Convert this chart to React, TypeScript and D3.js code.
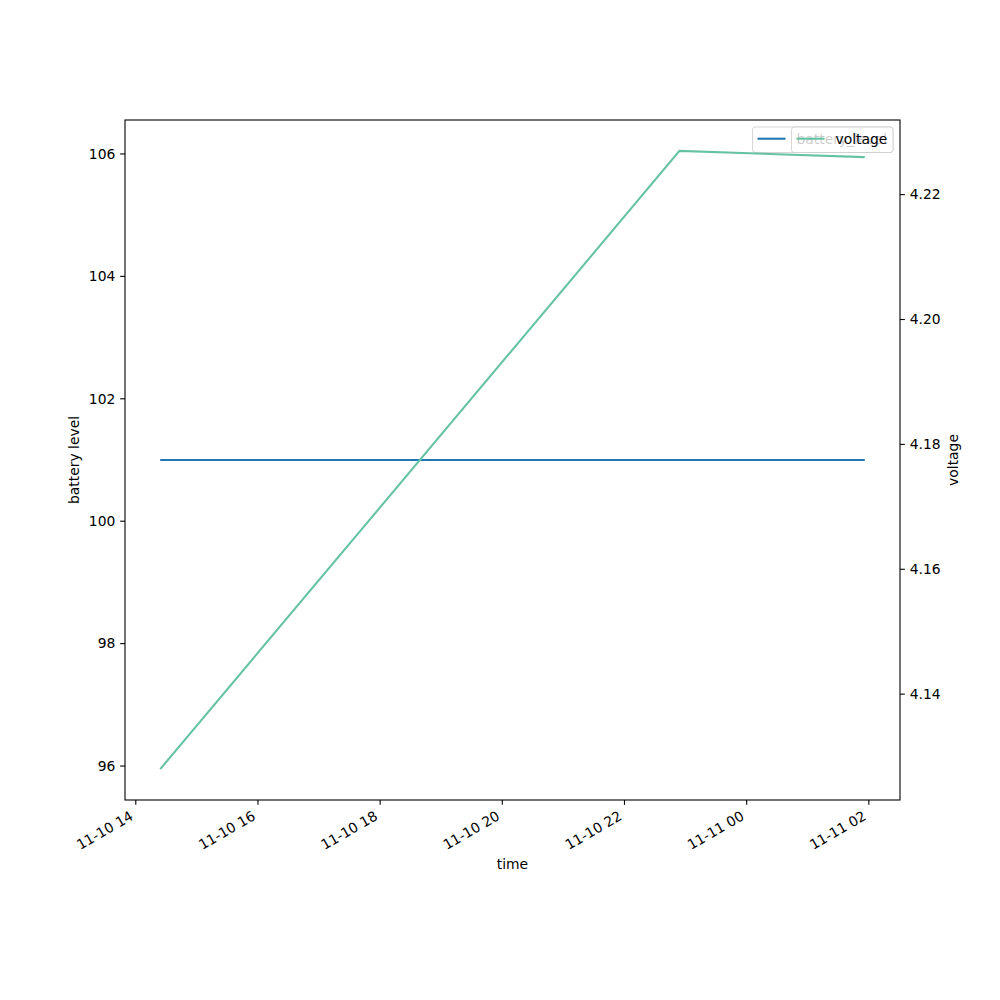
import React from "react";
import * as d3 from "d3";

const times = ["2023-11-10T14:24:00", "2023-11-10T22:54:00", "2023-11-11T01:56:00"];
const batteryLevel = [101, 101, 101];
const voltage = [4.128, 4.227, 4.226];
const batteryTicks = [96, 98, 100, 102, 104, 106];
const voltageTicks = [4.14, 4.16, 4.18, 4.2, 4.22];
const seriesNames = ["battery_level", "voltage"];

const W = 1000, H = 1000;
const L = 125, R = 900, T = 120, B = 800;
const FONT = "DejaVu Sans";
const FS = 13.89;
const BLUE = "#1f77b4";
const GREEN = "#66c2a5";

function withMargin(lo: number, hi: number) {
  if (hi - lo === 0) {
    const e = Math.abs(lo) * 0.05 || 0.05;
    lo -= e; hi += e;
  }
  const m = (hi - lo) * 0.05;
  return [lo - m, hi + m];
}

export default function App() {
  const dates = times.map((t) => new Date(t));
  const t0 = +dates[0], t1 = +dates[dates.length - 1];
  const tm = (t1 - t0) * 0.05;
  const x = d3.scaleTime().domain([new Date(t0 - tm), new Date(t1 + tm)]).range([L, R]);
  const [b0, b1] = withMargin(d3.min(batteryLevel)!, d3.max(batteryLevel)!);
  const yL = d3.scaleLinear().domain([b0, b1]).range([B, T]);
  const [v0, v1] = withMargin(d3.min(voltage)!, d3.max(voltage)!);
  const yR = d3.scaleLinear().domain([v0, v1]).range([B, T]);

  const lineB = d3.line<number>().x((_, i) => x(dates[i])).y((d) => yL(d));
  const lineV = d3.line<number>().x((_, i) => x(dates[i])).y((d) => yR(d));

  const xticks = x.ticks(d3.timeHour.every(2)!);
  const fmt = d3.timeFormat("%m-%d %H");
  const tl = 4.86;

  return (
    <svg width={W} height={H} style={{ position: "absolute", left: 0, top: 0, display: "block" }}
      fontFamily={FONT} fontSize={FS}>
      <rect x={0} y={0} width={W} height={H} fill="#fff" />
      {/* ax1 */}
      <path d={lineB(batteryLevel)!} fill="none" stroke={BLUE} strokeWidth={2.08} />
      {/* ax1 legend */}
      <g>
        <rect x={752.5} y={127} width={140.5} height={25.5} rx={2.8} fill="#fff" fillOpacity={0.8}
          stroke="#cccccc" strokeOpacity={0.8} strokeWidth={1} />
        <line x1={757.5} x2={785.5} y1={138.7} y2={138.7} stroke={BLUE} strokeWidth={2.08} />
        <text x={796.5} y={144}>{seriesNames[0]}</text>
      </g>
      {/* ax2 */}
      <path d={lineV(voltage)!} fill="none" stroke={GREEN} strokeWidth={2.08} />
      <g>
        <rect x={791.5} y={127} width={101.5} height={25.5} rx={2.8} fill="#fff" fillOpacity={0.8}
          stroke="#cccccc" strokeOpacity={0.8} strokeWidth={1} />
        <line x1={796.5} x2={824.5} y1={138.7} y2={138.7} stroke={GREEN} strokeWidth={2.08} />
        <text x={835.5} y={144}>{seriesNames[1]}</text>
      </g>
      {/* spines */}
      <rect x={L} y={T} width={R - L} height={B - T} fill="none" stroke="#000" strokeWidth={1.1} />
      {/* x ticks */}
      {xticks.map((d, i) => {
        const px = x(d);
        return (
          <g key={i}>
            <line x1={px} x2={px} y1={B} y2={B + tl} stroke="#000" strokeWidth={1.1} />
            <text transform={`translate(${px - 1.6},${B + 9.7 + 9.2}) rotate(-30)`} textAnchor="end">
              {fmt(d)}
            </text>
          </g>
        );
      })}
      {/* left ticks */}
      {batteryTicks.map((v, i) => (
        <g key={i}>
          <line x1={L - tl} x2={L} y1={yL(v)} y2={yL(v)} stroke="#000" strokeWidth={1.1} />
          <text x={L - 9.7} y={yL(v)} dy="0.35em" textAnchor="end">{v}</text>
        </g>
      ))}
      {/* right ticks */}
      {voltageTicks.map((v, i) => (
        <g key={i}>
          <line x1={R} x2={R + tl} y1={yR(v)} y2={yR(v)} stroke="#000" strokeWidth={1.1} />
          <text x={R + 9.7} y={yR(v)} dy="0.35em" textAnchor="start">{v.toFixed(2)}</text>
        </g>
      ))}
      <text x={(L + R) / 2} y={869} textAnchor="middle">time</text>
      <text transform={`translate(79,${(T + B) / 2}) rotate(-90)`} textAnchor="middle">battery level</text>
      <text transform={`translate(958,${(T + B) / 2}) rotate(-90)`} textAnchor="middle">voltage</text>
    </svg>
  );
}
